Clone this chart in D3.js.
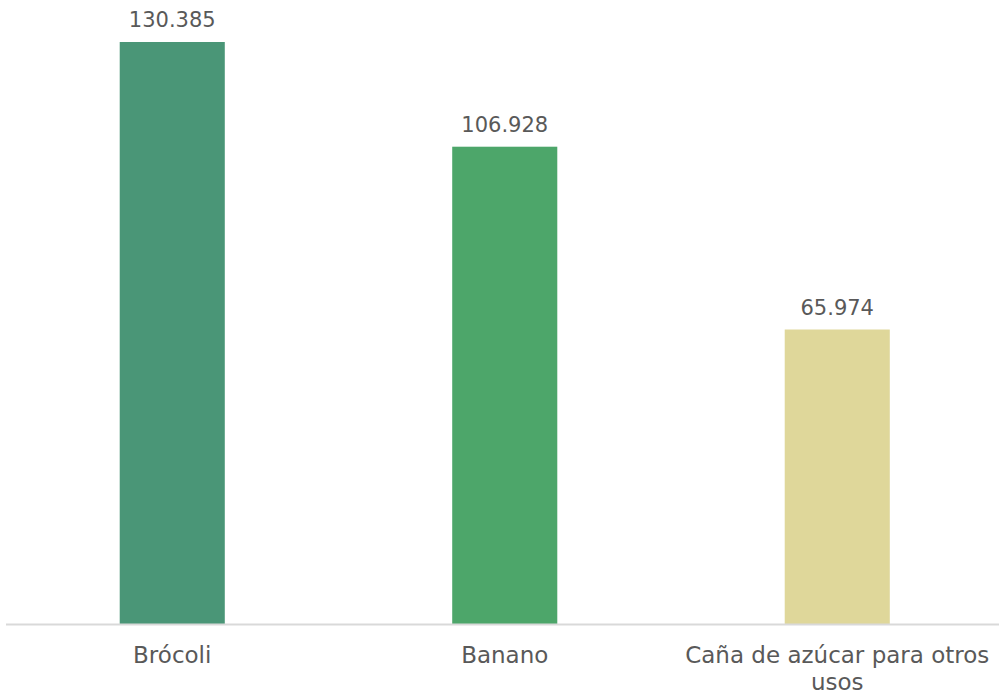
<!DOCTYPE html>
<html><head><meta charset="utf-8">
<script src="https://cdn.jsdelivr.net/npm/d3@7"></script>
<style>body{margin:0;background:#fff}svg{display:block}</style>
</head><body>
<svg id="c" width="999" height="695"></svg>
<script>
const categories = ["Brócoli", "Banano", "Caña de azúcar para otros usos"];
const labelLines = [["Brócoli"], ["Banano"], ["Caña de azúcar para otros", "usos"]];
const values = [130.385, 106.928, 65.974];
const valueLabels = ["130.385", "106.928", "65.974"];
const colors = ["#4a9677", "#4da66a", "#dfd79a"];

const svg = d3.select("#c");
const font = "'Century Gothic', 'URW Gothic', 'DejaVu Sans', sans-serif";
const x = d3.scaleBand().domain(categories).range([6, 1003.5]).padding(0);
const y = d3.scaleLinear().domain([0, 130.385]).range([624, 42]);
const bw = x.bandwidth() * 0.316;
const cx = d => x(d) + x.bandwidth()/2;

svg.selectAll("rect.bar").data(categories).join("rect")
  .attr("class", "bar")
  .attr("x", d => cx(d) - bw/2)
  .attr("width", bw)
  .attr("y", (d, i) => y(values[i]))
  .attr("height", (d, i) => y(0) - y(values[i]))
  .attr("fill", (d, i) => colors[i]);

svg.append("line").attr("x1", 6).attr("x2", 999).attr("y1", y(0)+0.5).attr("y2", y(0)+0.5)
  .attr("stroke", "#d9d9d9").attr("stroke-width", 2);

svg.selectAll("text.val").data(categories).join("text")
  .attr("class", "val")
  .attr("x", d => cx(d))
  .attr("y", (d, i) => y(values[i]) - 15)
  .attr("text-anchor", "middle")
  .attr("font-family", font).attr("font-size", 21).attr("fill", "#595959")
  .text((d, i) => valueLabels[i]);

categories.forEach((c, i) => {
  const t = svg.append("text")
    .attr("x", cx(c))
    .attr("y", 663)
    .attr("text-anchor", "middle")
    .attr("font-family", font).attr("font-size", 23).attr("fill", "#595959");
  labelLines[i].forEach((ln, j) => {
    t.append("tspan").attr("x", cx(c)).attr("dy", j === 0 ? 0 : 27).text(ln);
  });
});
</script>
</body></html>
